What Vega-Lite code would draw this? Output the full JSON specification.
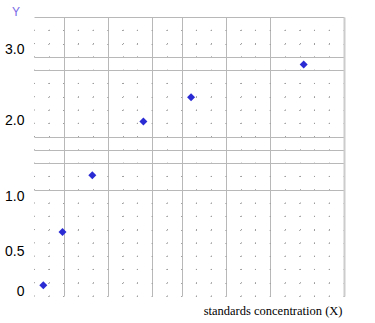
{
  "$schema": "https://vega.github.io/schema/vega-lite/v6.json",
  "width": 310,
  "height": 279,
  "autosize": {"type": "none"},
  "padding": {"left": 34, "top": 17, "right": 31, "bottom": 27},
  "background": "white",
  "config": {"view": {"stroke": null}},
  "data": {
    "values": [
      {"concentration": 0.63, "absorbance": 0.08},
      {"concentration": 1.93, "absorbance": 0.68},
      {"concentration": 3.95, "absorbance": 1.28},
      {"concentration": 7.41, "absorbance": 1.98},
      {"concentration": 10.64, "absorbance": 2.32},
      {"concentration": 18.27, "absorbance": 2.78}
    ]
  },
  "layer": [
    {
      "mark": {"type": "point", "opacity": 0},
      "encoding": {
        "x": {
          "datum": 0,
          "type": "quantitative",
          "scale": {"domain": [0, 21], "nice": false, "zero": false},
          "axis": {
            "values": [0,1,2,3,4,5,6,7,8,9,10,11,12,13,14,15,16,17,18,19,20,21],
            "grid": true,
            "gridColor": {"condition": {"test": "datum.value == 2 || datum.value == 5 || datum.value == 8 || datum.value == 10 || datum.value == 13 || datum.value == 16", "value": "#b8b8b8"}, "value": "#9a9a9a"},
            "gridDash": {"condition": {"test": "datum.value == 2 || datum.value == 5 || datum.value == 8 || datum.value == 10 || datum.value == 13 || datum.value == 16", "value": []}, "value": [1, 12.2857]},
            "gridWidth": 1,
            "labels": false,
            "ticks": false,
            "domain": false,
            "title": "standards concentration (X)",
            "titleFont": "Liberation Serif",
            "titleFontSize": 12.5,
            "titleFontWeight": "normal",
            "titleColor": "#000000",
            "titleAlign": "right",
            "titleAnchor": "end",
            "titleBaseline": "alphabetic",
            "titleX": 308,
            "titleY": 18
          }
        },
        "y": {
          "datum": 0,
          "type": "quantitative",
          "scale": {"domain": [0, 21], "range": [0, 279], "nice": false, "zero": false},
          "axis": {
            "orient": "right",
            "values": [0,1,2,3,4,5,6,7,8,9,10,11,12,13,14,15,16,17,18,19,20,21],
            "grid": true,
            "gridColor": {"condition": {"test": "indexof([0,3,4,9,10,11,13], datum.value) >= 0", "value": "#b8b8b8"}, "value": "#9a9a9a"},
            "gridDash": {"condition": {"test": "indexof([0,3,4,9,10,11,13], datum.value) >= 0", "value": []}, "value": [1, 13.762]},
            "gridWidth": 1,
            "labels": false,
            "ticks": false,
            "domain": true,
            "domainColor": "#cccccc",
            "domainWidth": 2,
            "title": null
          }
        }
      }
    },
    {
      "mark": {"type": "point", "shape": "diamond", "filled": true, "color": "#2b2bd4", "size": 64, "opacity": 1},
      "encoding": {
        "x": {
          "field": "concentration",
          "type": "quantitative",
          "scale": {"domain": [0, 21], "nice": false, "zero": false},
          "axis": null
        },
        "y": {
          "field": "absorbance",
          "type": "quantitative",
          "scale": {
            "type": "linear",
            "domain": [-0.054, 0, 0.5, 1, 2, 3, 3.45],
            "range": [279, 274.7, 234.7, 179.7, 103, 32, 0],
            "nice": false,
            "zero": false
          },
          "axis": {
            "orient": "left",
            "values": [0, 0.5, 1, 2, 3],
            "labelExpr": "datum.value == 0 ? '0' : format(datum.value, '.1f')",
            "grid": false,
            "ticks": false,
            "domain": false,
            "labelFont": "Liberation Sans",
            "labelFontSize": 14,
            "labelColor": "#000000",
            "labelPadding": 10,
            "labelBaseline": "middle",
            "title": "Y",
            "titleAngle": 0,
            "titleFont": "Liberation Sans",
            "titleFontSize": 12,
            "titleFontWeight": "normal",
            "titleColor": "#7a6ae6",
            "titleAlign": "center",
            "titleBaseline": "middle",
            "titleX": -18.5,
            "titleY": -5.5
          }
        }
      }
    }
  ],
  "resolve": {"scale": {"y": "independent"}, "axis": {"x": "independent", "y": "independent"}}
}
